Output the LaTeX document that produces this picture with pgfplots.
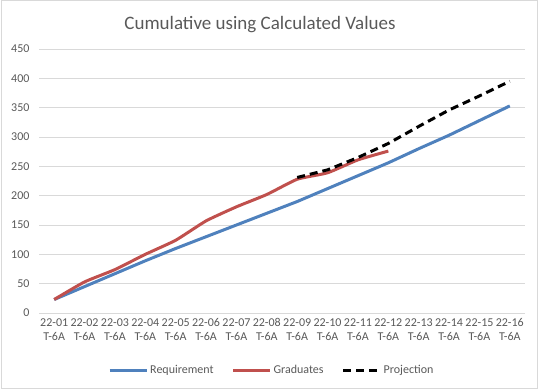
\documentclass[border=0pt]{standalone}
\usepackage{fontspec}
\setmainfont{Carlito}
\usepackage{pgfplots}
\pgfplotsset{compat=1.18}
\definecolor{reqblue}{HTML}{4F81BD}
\definecolor{gradred}{HTML}{C0504D}
\definecolor{gridgray}{HTML}{D9D9D9}
\definecolor{txtgray}{HTML}{595959}
\begin{document}
\begin{tikzpicture}[x=1pt,y=1pt]
\useasboundingbox (0,0) rectangle (543,391);
\draw[gridgray, line width=1pt] (1,3) rectangle (537,390);
\node[text=txtgray, font=\fontsize{19}{21}\selectfont] at (260,366) {Cumulative using Calculated Values};
\begin{axis}[
  at={(39pt,78pt)}, anchor=south west,
  scale only axis, width=486pt, height=264pt,
  xmin=-0.5, xmax=15.5, ymin=0, ymax=450,
  xtick={0,...,15},
  xticklabels={{22-01\\T-6A},{22-02\\T-6A},{22-03\\T-6A},{22-04\\T-6A},{22-05\\T-6A},{22-06\\T-6A},{22-07\\T-6A},{22-08\\T-6A},{22-09\\T-6A},{22-10\\T-6A},{22-11\\T-6A},{22-12\\T-6A},{22-13\\T-6A},{22-14\\T-6A},{22-15\\T-6A},{22-16\\T-6A}},
  ytick={0,50,...,450},
  ymajorgrids, grid style={gridgray, line width=1pt},
  axis line style={draw=none},
  major tick length=0pt,
  /pgf/number format/assume math mode=true,
  tick label style={text=txtgray, font=\fontsize{12}{14}\selectfont},
  xticklabel style={align=center, yshift=-2pt},
  yticklabel style={xshift=-6pt},
  legend style={at={(0.479,-0.216)}, anchor=center, draw=none, fill=none,
    legend columns=3, font=\fontsize{12}{14}\selectfont, text=txtgray,
    /tikz/every even column/.append style={column sep=16pt}},
  legend image code/.code={\draw[#1] (0pt,0pt) -- (37pt,0pt);},
  legend cell align=left,
]
\addplot[reqblue, line width=3pt, line join=round] coordinates {
(0,23) (1,45) (2,67) (3,89) (4,110) (5,130) (6,150) (7,170) (8,190) (9,212) (10,234) (11,256) (12,280) (13,303) (14,328) (15,353)};
\addlegendentry{Requirement}
\addplot[gradred, line width=3pt, line join=round, smooth, tension=0.3] coordinates {
(0,23) (1,53) (2,74) (3,100) (4,124) (5,157) (6,181) (7,202) (8,228) (9,239) (10,261) (11,276)};
\addlegendentry{Graduates}
\addplot[black, line width=3pt, dash pattern=on 8pt off 5pt] coordinates {
(8,231) (9,244) (10,265) (11,289) (12,318) (13,346) (14,370) (15,395)};
\addlegendentry{Projection}
\end{axis}
\end{tikzpicture}
\end{document}
